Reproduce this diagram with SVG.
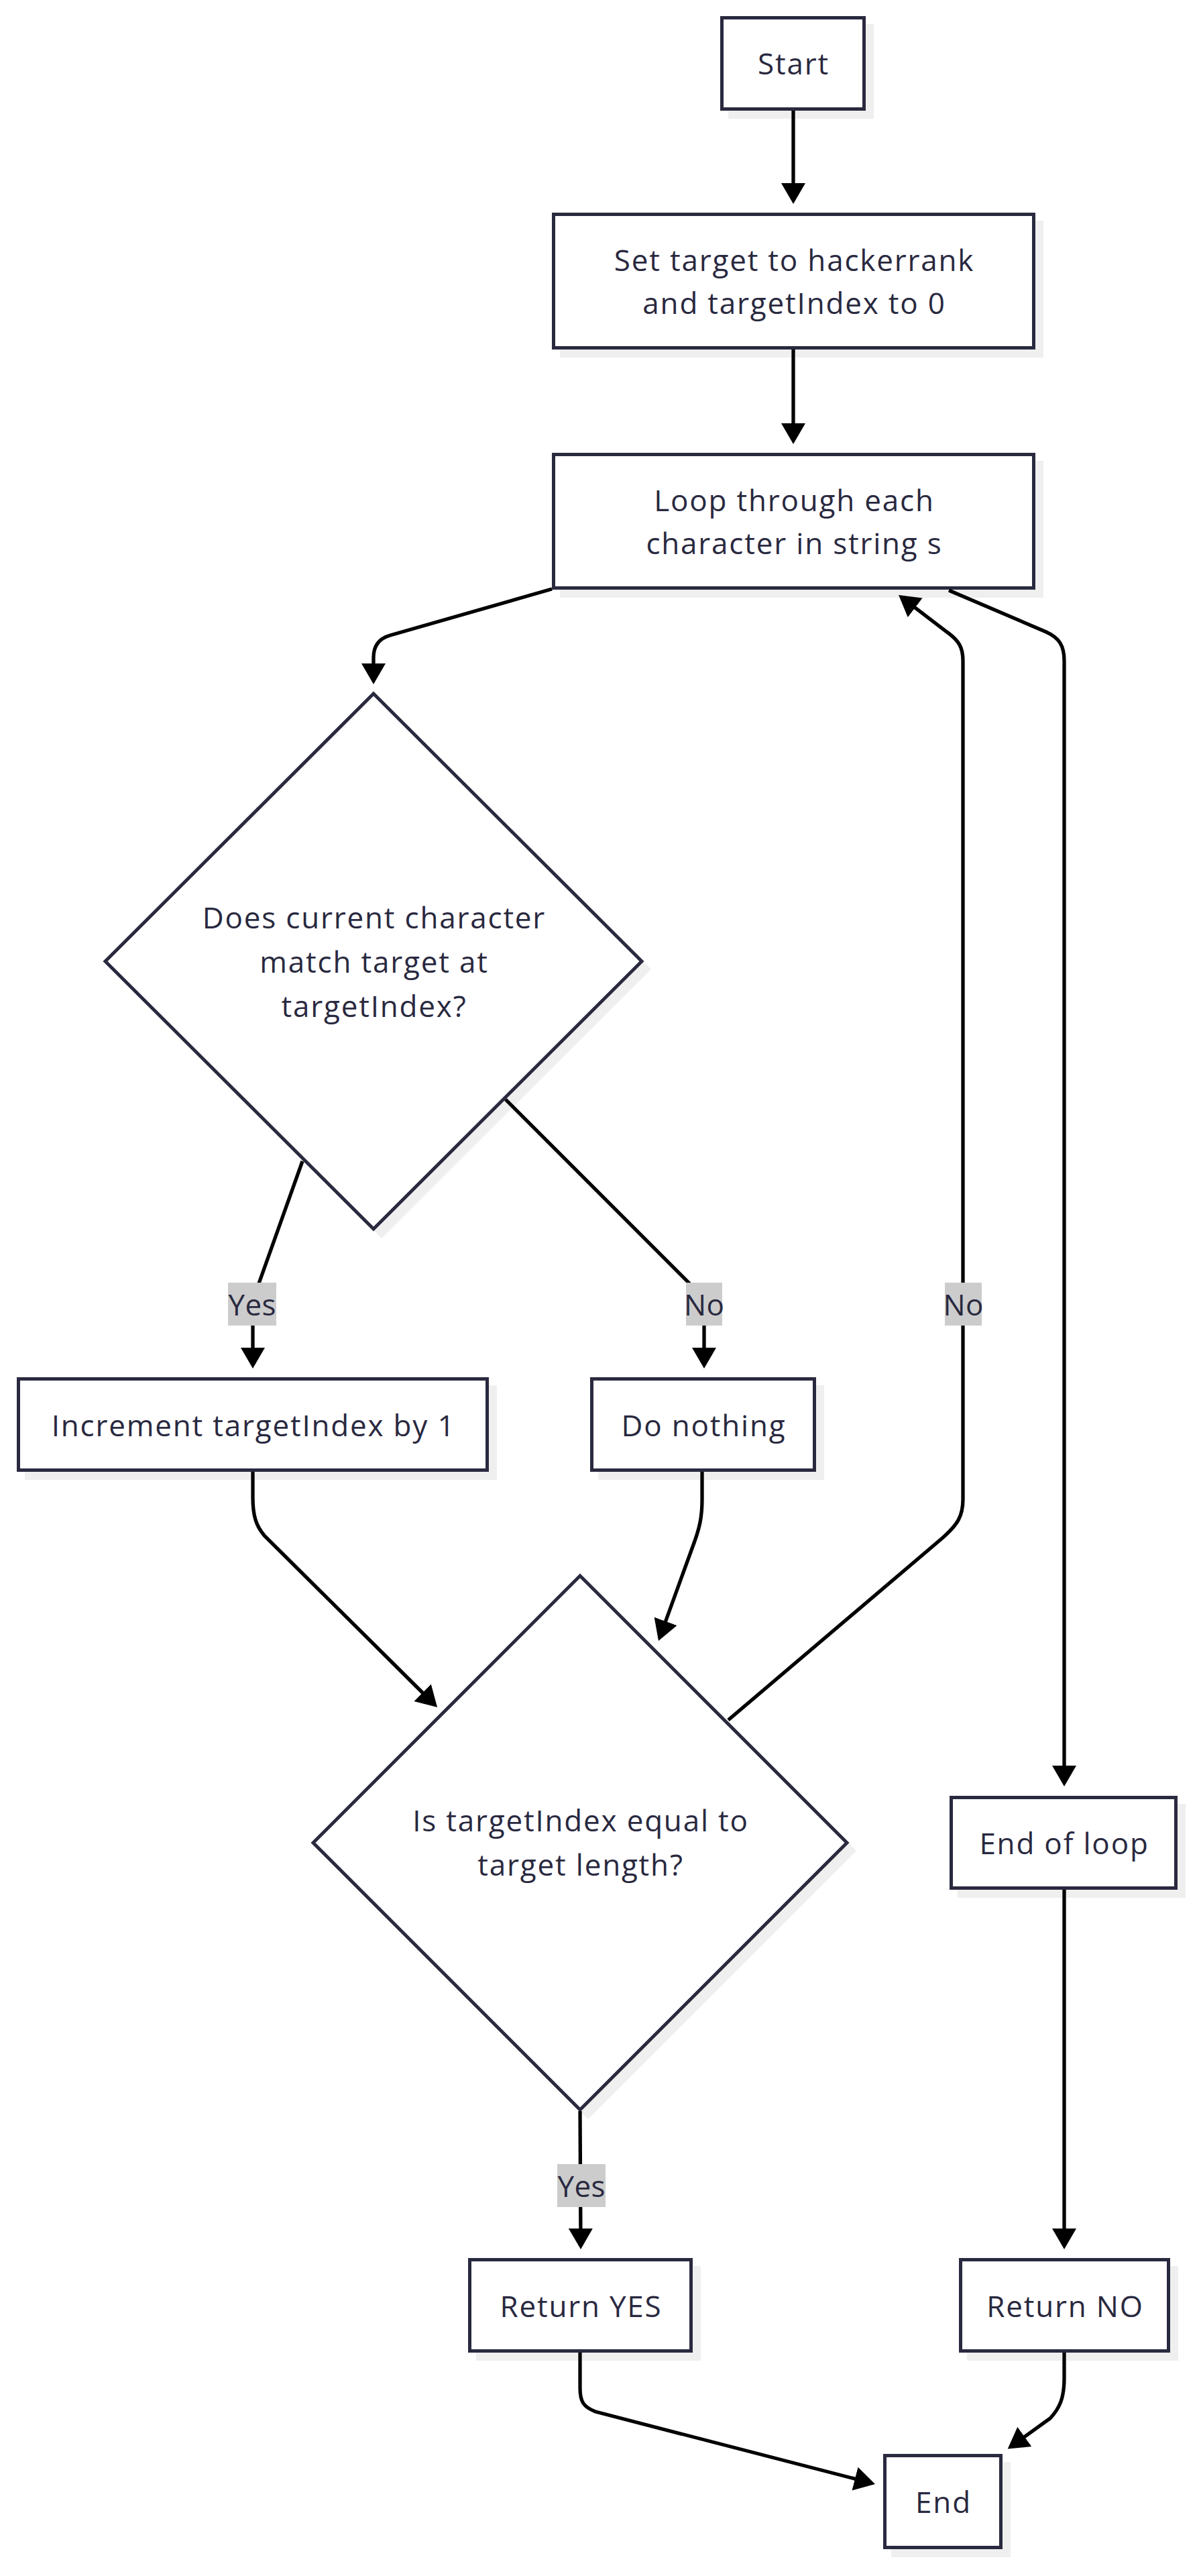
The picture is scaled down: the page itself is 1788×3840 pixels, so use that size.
<svg xmlns="http://www.w3.org/2000/svg" width="1788" height="3840" viewBox="0 0 1788 3840">
<style>
.bg{fill:#ffffff}
.sh{fill:#efefef;stroke:none}
.nd{fill:#ffffff;stroke:#29293f;stroke-width:5}
.tx{font-family:"Open Sans","Liberation Sans",sans-serif;font-size:44px;letter-spacing:1.8px;fill:#29293f;text-anchor:middle;dominant-baseline:central}
.lt{letter-spacing:0.4px}
.ed{fill:none;stroke:#000000;stroke-width:5.3}
.lb{fill:#cccccc}
</style>
<defs>
<marker id="ah" viewBox="0 0 31 36" markerUnits="userSpaceOnUse" markerWidth="31" markerHeight="36" refX="21" refY="18" orient="auto">
<path d="M0,0 L31,18 L0,36 z" fill="#000000"/>
</marker>
</defs>
<rect class="bg" x="0" y="0" width="1788" height="3840"/>

<g id="start">
<rect class="sh" x="1086" y="36" width="217" height="141"/>
<rect class="nd" x="1076.5" y="26.5" width="212" height="136"/>
<text class="tx" x="1183.5" y="94">Start</text>
</g>

<g id="set-target">
<rect class="sh" x="835" y="329" width="721" height="204"/>
<rect class="nd" x="825.5" y="319.5" width="716" height="199"/>
<text class="tx" x="1184.5" y="387">Set target to hackerrank</text>
<text class="tx" x="1184.5" y="451">and targetIndex to 0</text>
</g>

<g id="loop">
<rect class="sh" x="835" y="687" width="721" height="204"/>
<rect class="nd" x="825.5" y="677.5" width="716" height="199"/>
<text class="tx" x="1184.5" y="745">Loop through each</text>
<text class="tx" x="1184.5" y="809">character in string s</text>
</g>

<g id="match">
<polygon class="sh" points="569,1044 971,1445 569,1846 167,1445"/>
<polygon class="nd" points="557,1034 957,1433 557,1832 157,1433"/>
<text class="tx" x="558" y="1367">Does current character</text>
<text class="tx" x="558" y="1433">match target at</text>
<text class="tx" x="558" y="1499">targetIndex?</text>
</g>

<g id="increment">
<rect class="sh" x="37" y="2065" width="704" height="141"/>
<rect class="nd" x="27.5" y="2055.5" width="699" height="136"/>
<text class="tx" x="378" y="2123.5">Increment targetIndex by 1</text>
</g>

<g id="do-nothing">
<rect class="sh" x="892" y="2065" width="337" height="141"/>
<rect class="nd" x="882.5" y="2055.5" width="332" height="136"/>
<text class="tx" x="1049.5" y="2123.5">Do nothing</text>
</g>

<g id="equal">
<polygon class="sh" points="877,2359 1277,2759 877,3159 477,2759"/>
<polygon class="nd" points="865,2349 1263,2747 865,3145 467,2747"/>
<text class="tx" x="866" y="2713">Is targetIndex equal to</text>
<text class="tx" x="866" y="2779">target length?</text>
</g>

<g id="end-of-loop">
<rect class="sh" x="1428" y="2689" width="340" height="140"/>
<rect class="nd" x="1418.5" y="2679.5" width="335" height="135"/>
<text class="tx" x="1587" y="2747">End of loop</text>
</g>

<g id="return-yes">
<rect class="sh" x="710" y="3378" width="335" height="141"/>
<rect class="nd" x="700.5" y="3368.5" width="330" height="136"/>
<text class="tx" x="866.5" y="3436.5">Return YES</text>
</g>

<g id="return-no">
<rect class="sh" x="1442" y="3378" width="315" height="141"/>
<rect class="nd" x="1432.5" y="3368.5" width="310" height="136"/>
<text class="tx" x="1588.5" y="3436.5">Return NO</text>
</g>

<g id="end">
<rect class="sh" x="1329" y="3670" width="178" height="142"/>
<rect class="nd" x="1319.5" y="3660.5" width="173" height="137"/>
<text class="tx" x="1407" y="3729">End</text>
</g>

<g id="connectors">
<path class="ed" d="M1183,165 L1183,294" marker-end="url(#ah)"/>
<path class="ed" d="M1183,521 L1183,652" marker-end="url(#ah)"/>
<path class="ed" d="M823,878 L582,947 Q557,954 557,980 L557,1010" marker-end="url(#ah)"/>
<path class="ed" d="M451,1731 L380,1930 Q377,1940 377,1950 L377,2030" marker-end="url(#ah)"/>
<path class="ed" d="M754,1639 L1040,1925 Q1050,1935 1050,1950 L1050,2030" marker-end="url(#ah)"/>
<path class="ed" d="M377,2194 L377,2232 C377,2260 382,2275 395,2290 L645,2538" marker-end="url(#ah)"/>
<path class="ed" d="M1047,2194 L1047,2235 C1047,2262 1043,2278 1035,2300 L985.4,2436.6" marker-end="url(#ah)"/>
<path class="ed" d="M1086,2564 L1405,2293 C1428,2273 1436,2260 1436,2235 L1436,985 C1436,965 1430,955 1412,942 L1348,893.1" marker-end="url(#ah)"/>
<path class="ed" d="M1415,880 L1560,942 C1580,951 1587,963 1587,985 L1587,2653" marker-end="url(#ah)"/>
<path class="ed" d="M865,3147 L866,3343" marker-end="url(#ah)"/>
<path class="ed" d="M1587,2817 L1587,3343" marker-end="url(#ah)"/>
<path class="ed" d="M865,3507 L865,3560 C865,3580 870,3588 888,3595 L1295.3,3700.4" marker-end="url(#ah)"/>
<path class="ed" d="M1587,3507 L1587,3545 C1587,3575 1580,3590 1566,3605 L1510.8,3644.7" marker-end="url(#ah)"/>
<g id="edge-labels">
<rect class="lb" x="340" y="1912" width="72" height="64"/>
<text class="tx lt" x="376.2" y="1944">Yes</text>
<rect class="lb" x="1023" y="1912" width="54" height="64"/>
<text class="tx lt" x="1050.2" y="1944">No</text>
<rect class="lb" x="1409" y="1912" width="55" height="64"/>
<text class="tx lt" x="1436.7" y="1944">No</text>
<rect class="lb" x="831" y="3226" width="72" height="64"/>
<text class="tx lt" x="867.2" y="3258">Yes</text>
</g>
</g>
</svg>
